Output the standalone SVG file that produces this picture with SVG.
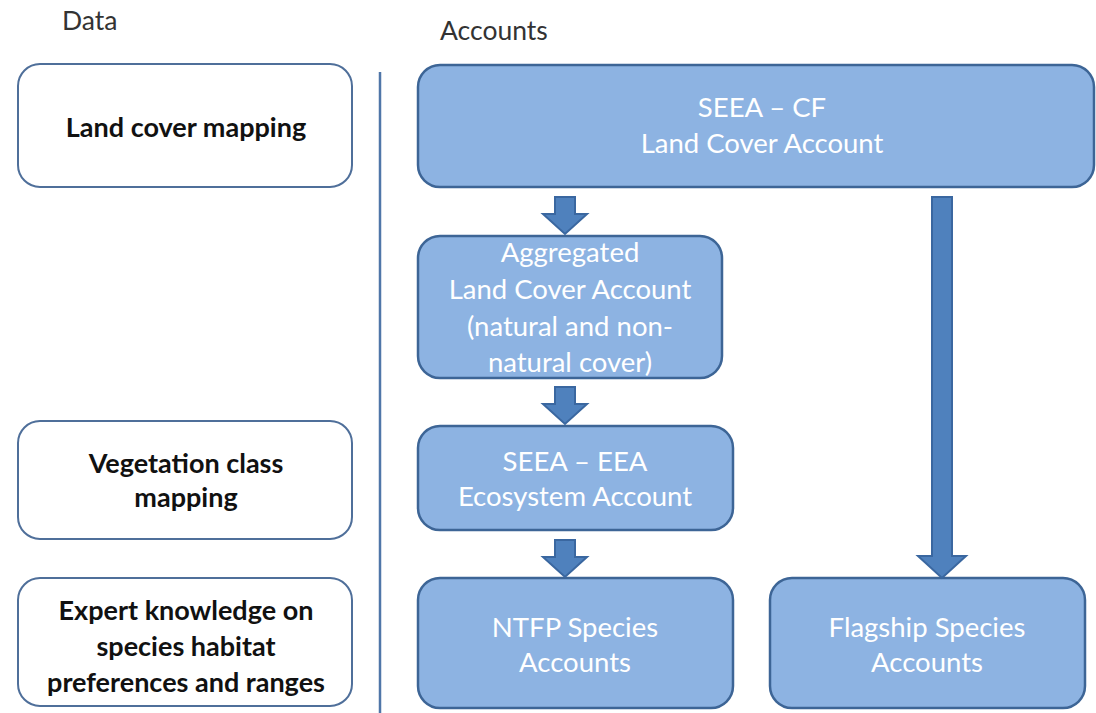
<svg xmlns="http://www.w3.org/2000/svg" width="1096" height="713" viewBox="0 0 1096 713">
<style>
.data rect{fill:#ffffff;stroke:#4f6f9a;stroke-width:2}
.acc rect{fill:#8db3e2;stroke:#3d6596;stroke-width:2.5}
.dt{font-family:Lato,"Liberation Sans",sans-serif;font-size:27px;font-weight:bold;fill:#111;text-anchor:middle}
.at{font-family:Lato,"Liberation Sans",sans-serif;font-size:27.5px;fill:#ffffff;text-anchor:middle}
.hd{font-family:Lato,"Liberation Sans",sans-serif;font-size:26.5px;fill:#333;}
.arr{fill:#4f81bd;stroke:#3a67a0;stroke-width:2}
</style>
<rect width="1096" height="713" fill="#ffffff"/>
<text class="hd" x="62" y="30">Data</text>
<text class="hd" x="440" y="40">Accounts</text>
<line x1="380" y1="72" x2="380" y2="713" stroke="#4f76a8" stroke-width="2.5"/>

<g id="land-cover-mapping" class="data">
<rect x="18" y="64" width="334" height="123" rx="22"/>
<text class="dt" x="186" y="137">Land cover mapping</text>
</g>
<g id="vegetation-class-mapping" class="data">
<rect x="18" y="421" width="334" height="118" rx="22"/>
<text class="dt" x="186" y="473">Vegetation class</text>
<text class="dt" x="186" y="507">mapping</text>
</g>
<g id="expert-knowledge" class="data">
<rect x="18" y="578" width="334" height="128" rx="22"/>
<text class="dt" x="186" y="620">Expert knowledge on</text>
<text class="dt" x="186" y="656">species habitat</text>
<text class="dt" x="186" y="692">preferences and ranges</text>
</g>

<g id="seea-cf" class="acc">
<rect x="418" y="65" width="676" height="122" rx="22"/>
<text class="at" x="762" y="117">SEEA – CF</text>
<text class="at" x="762" y="153">Land Cover Account</text>
</g>
<g id="aggregated" class="acc">
<rect x="418" y="236" width="304" height="142" rx="22"/>
<text class="at" x="570" y="262">Aggregated</text>
<text class="at" x="570" y="299">Land Cover Account</text>
<text class="at" x="570" y="336">(natural and non-</text>
<text class="at" x="570" y="372">natural cover)</text>
</g>
<g id="seea-eea" class="acc">
<rect x="418" y="426" width="315" height="104" rx="22"/>
<text class="at" x="575" y="471">SEEA – EEA</text>
<text class="at" x="575" y="506">Ecosystem Account</text>
</g>
<g id="ntfp" class="acc">
<rect x="418" y="578" width="315" height="130" rx="22"/>
<text class="at" x="575" y="637">NTFP Species</text>
<text class="at" x="575" y="672">Accounts</text>
</g>
<g id="flagship" class="acc">
<rect x="770" y="578" width="315" height="130" rx="22"/>
<text class="at" x="927" y="637">Flagship Species</text>
<text class="at" x="927" y="672">Accounts</text>
</g>

<g id="connectors">
<path class="arr" d="M555,197 H575 V214 H587 L565,234 L543,214 H555 Z"/>
<path class="arr" d="M555,387 H575 V404 H587 L565,424 L543,404 H555 Z"/>
<path class="arr" d="M555,540 H575 V557 H587 L565,577 L543,557 H555 Z"/>
<path class="arr" d="M932,197 H952 V556 H966 L942,578 L918,556 H932 Z"/>
</g>
</svg>
